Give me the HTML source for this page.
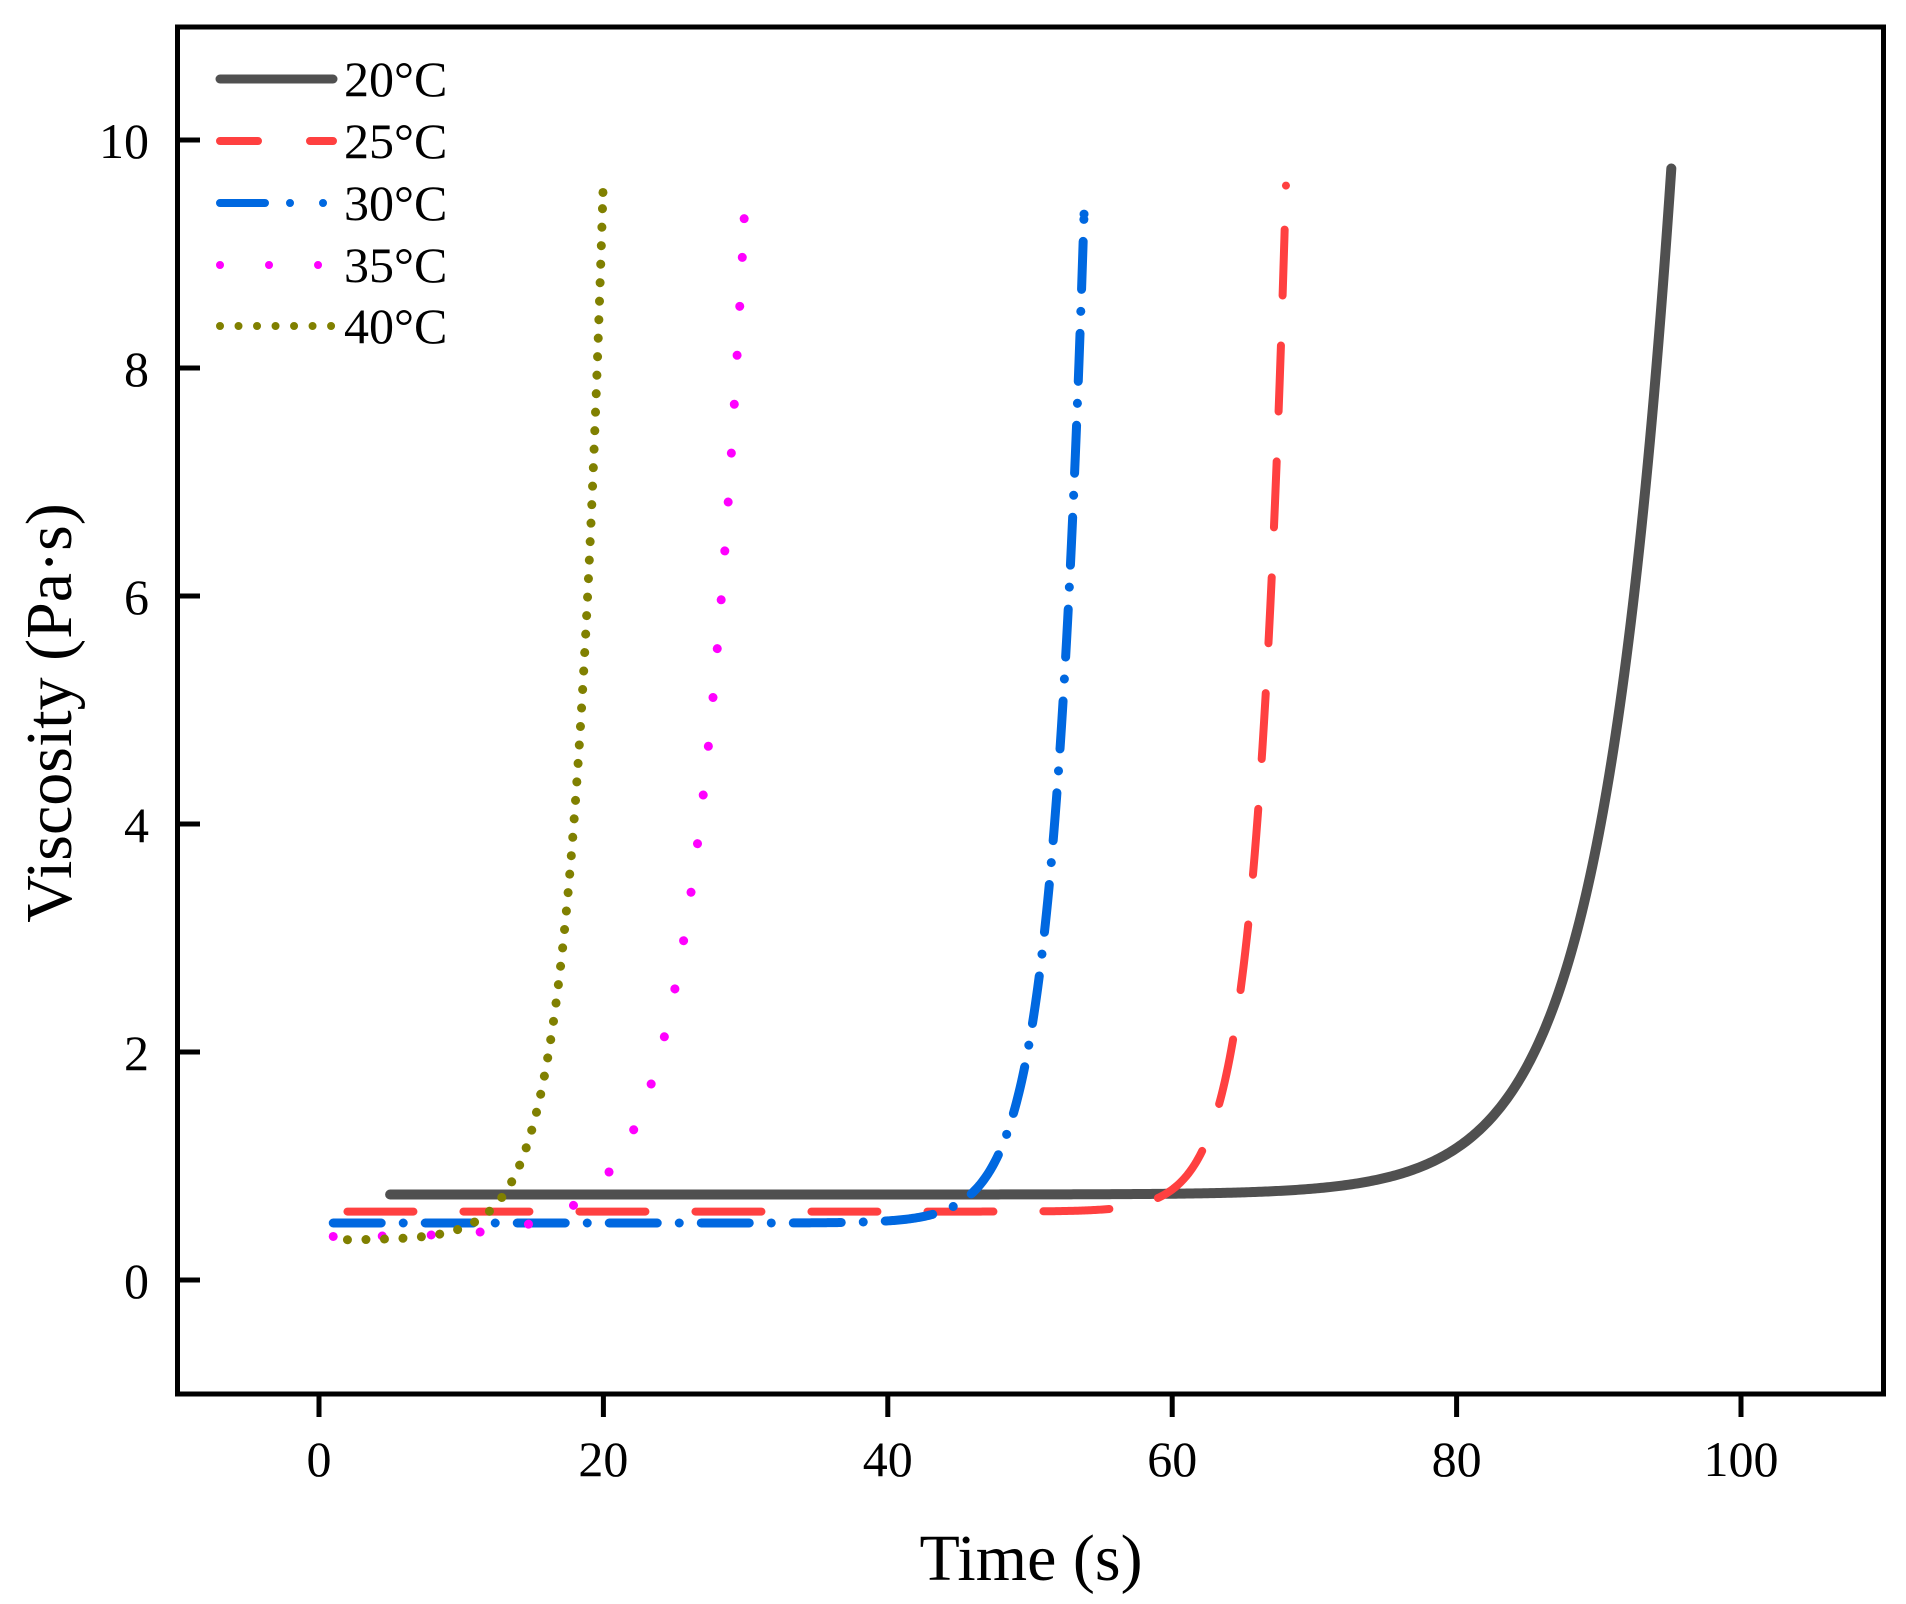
<!DOCTYPE html>
<html><head><meta charset="utf-8"><style>
html,body{margin:0;padding:0;background:#fff}
svg{display:block}
text{font-family:"Liberation Serif","Times New Roman",serif;fill:#000}
</style></head><body>
<svg id="s" width="1906" height="1604" viewBox="0 0 1906 1604" xmlns="http://www.w3.org/2000/svg">
<rect x="0" y="0" width="1906" height="1604" fill="#fff"/>
<g id="curves" fill="none" stroke-linecap="round" stroke-linejoin="round"></g>
<rect x="177.5" y="27" width="1706" height="1367" fill="none" stroke="#000" stroke-width="5"/>
<g stroke="#000" stroke-width="5">
<line x1="319" y1="1394" x2="319" y2="1417"/>
<line x1="603.4" y1="1394" x2="603.4" y2="1417"/>
<line x1="887.8" y1="1394" x2="887.8" y2="1417"/>
<line x1="1172.2" y1="1394" x2="1172.2" y2="1417"/>
<line x1="1456.6" y1="1394" x2="1456.6" y2="1417"/>
<line x1="1741" y1="1394" x2="1741" y2="1417"/>
<line x1="177" y1="1280" x2="200" y2="1280"/>
<line x1="177" y1="1052" x2="200" y2="1052"/>
<line x1="177" y1="824" x2="200" y2="824"/>
<line x1="177" y1="596" x2="200" y2="596"/>
<line x1="177" y1="368" x2="200" y2="368"/>
<line x1="177" y1="140" x2="200" y2="140"/>
</g>
<g font-size="50" text-anchor="middle">
<text x="319" y="1476">0</text>
<text x="603.4" y="1476">20</text>
<text x="887.8" y="1476">40</text>
<text x="1172.2" y="1476">60</text>
<text x="1456.6" y="1476">80</text>
<text x="1741" y="1476">100</text>
</g>
<g font-size="50" text-anchor="end">
<text x="149" y="1298">0</text>
<text x="149" y="1070">2</text>
<text x="149" y="842">4</text>
<text x="149" y="614">6</text>
<text x="149" y="386">8</text>
<text x="149" y="158">10</text>
</g>
<text x="1031" y="1580" font-size="66" text-anchor="middle">Time (s)</text>
<text transform="translate(71,713) rotate(-90)" font-size="66" text-anchor="middle">Viscosity (Pa·s)</text>
<g fill="none" stroke-linecap="round">
<line x1="220" y1="79" x2="333" y2="79" stroke="#505050" stroke-width="9"/>
<line x1="220" y1="141" x2="333" y2="141" stroke="#FF4040" stroke-width="8" stroke-dasharray="38 52"/>
<line x1="220" y1="203" x2="333" y2="203" stroke="#0068E0" stroke-width="8" stroke-dasharray="45 25 0.01 33 0.01 100"/>
<line x1="220" y1="265" x2="333" y2="265" stroke="#FF00FF" stroke-width="8" stroke-dasharray="0.01 49"/>
<line x1="220" y1="326" x2="333" y2="326" stroke="#808000" stroke-width="8" stroke-dasharray="0.01 18.5"/>
</g>
<g font-size="50">
<text x="344" y="96">20°C</text>
<text x="344" y="158">25°C</text>
<text x="344" y="220">30°C</text>
<text x="344" y="282">35°C</text>
<text x="344" y="343">40°C</text>
</g>
</svg>
<script>
(function(){
var X=function(v){return 319+v*14.22;}, Y=function(v){return 1280-v*114;};
var series=[
 {x0:5,x1:95.1,base:0.75,top:9.75,b:0.205,c:"#505050",w:10,d:""},
 {x0:2,x1:68,base:0.6,top:9.6,b:0.48,c:"#FF4040",w:8,d:"66 50"},
 {x0:1,x1:53.8,base:0.5,top:9.35,b:0.447,c:"#0068E0",w:9,d:"48 22 0.01 22"},
 {x0:1,x1:29.9,base:0.38,top:9.31,b:0.29,c:"#FF00FF",w:9,d:"0.01 49"},
 {x0:2,x1:19.97,base:0.35,top:9.54,b:0.45,c:"#808000",w:9,d:"0.01 18.5"}
];
var g=document.getElementById("curves"),ns="http://www.w3.org/2000/svg";
series.forEach(function(s){
 var a=s.top-s.base,pts=[],n=600;
 for(var i=0;i<=n;i++){var x=s.x0+(s.x1-s.x0)*i/n;var y=s.base+a*Math.exp(s.b*(x-s.x1));pts.push(X(x).toFixed(2)+","+Y(y).toFixed(2));}
 var p=document.createElementNS(ns,"path");
 p.setAttribute("d","M"+pts.join(" L"));
 p.setAttribute("stroke",s.c);p.setAttribute("stroke-width",s.w);
 if(s.d)p.setAttribute("stroke-dasharray",s.d);
 g.appendChild(p);
 if(s.d){
  var c=document.createElementNS(ns,"circle");
  c.setAttribute("cx",X(s.x1));c.setAttribute("cy",Y(s.top));c.setAttribute("r",s.w/2);
  c.setAttribute("fill",s.c);c.setAttribute("stroke","none");
  g.appendChild(c);
 }
});
})();
</script>
</body></html>
